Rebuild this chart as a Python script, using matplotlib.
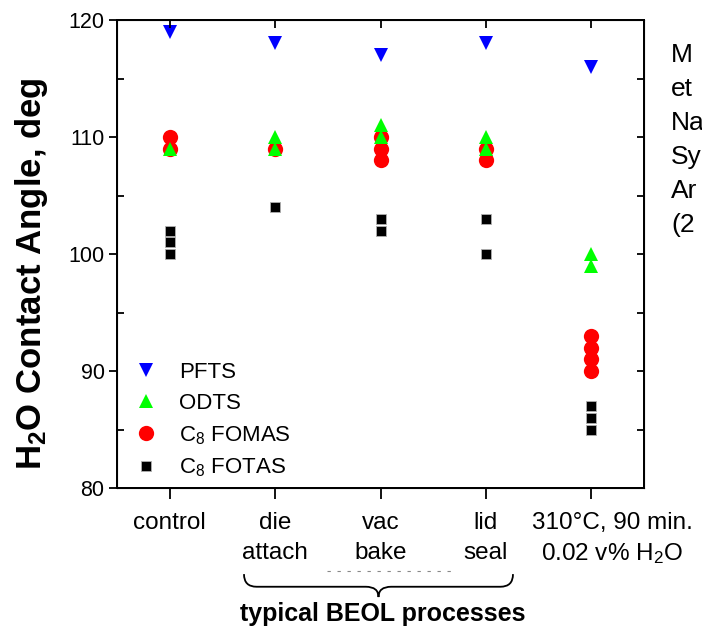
import matplotlib
matplotlib.use("Agg")
import matplotlib.pyplot as plt
import matplotlib.transforms as mtrans
from matplotlib.path import Path
from matplotlib.patches import PathPatch

plt.rcParams['font.family'] = ['Liberation Sans', 'DejaVu Sans']
plt.rcParams['mathtext.fontset'] = 'custom'
plt.rcParams['mathtext.rm'] = 'Liberation Sans'
plt.rcParams['mathtext.it'] = 'Liberation Sans'
plt.rcParams['mathtext.bf'] = 'Liberation Sans:bold'

# ---------------- data ----------------
categories = [1, 2, 3, 4, 5]
cat_line1 = ['control', 'die', 'vac', 'lid', '310°C, 90 min.']
cat_line2 = ['', 'attach', 'bake', 'seal', '0.02 v% H$_2$O']

pfts = [[119], [118], [117], [118], [116]]
odts = [[109], [110, 109], [111, 110], [110, 109], [100, 99]]
fomas = [[110, 109], [109], [110, 109, 108], [109, 108], [93, 92, 91, 90]]
fotas = [[102, 101, 100], [104], [103, 102], [103, 100], [87, 86, 85]]

series_labels = ['PFTS', 'ODTS', 'C$_8$ FOMAS', 'C$_8$ FOTAS']
yticks_major = [80, 90, 100, 110, 120]
yticks_minor = [85, 95, 105, 115]
side_note = ['M', 'et', 'Na', 'Sy', 'Ar', '(2']
group_label = 'typical BEOL processes'


def flat(vals):
    xs, ys = [], []
    for c, vs in zip(categories, vals):
        for v in vs:
            xs.append(c)
            ys.append(v)
    return xs, ys


fig = plt.figure(figsize=(7.02, 6.28), dpi=100)
ax = fig.add_axes([117 / 702, 1 - 488 / 628, (644 - 117) / 702, 468 / 628])
ax.set_xlim(0.5, 5.5)
ax.set_ylim(80, 120)

for sp in ax.spines.values():
    sp.set_linewidth(1.3)

x, y = flat(fotas)
ax.plot(x, y, 's', color='black', markersize=7.8, markeredgecolor='#b0b0b0',
        markeredgewidth=0.6, zorder=3, label=series_labels[3])
x, y = flat(fomas)
ax.plot(x, y, 'o', color='#ff0000', markersize=11, markeredgewidth=0,
        zorder=4, label=series_labels[2])
x, y = flat(odts)
ax.plot(x, y, '^', color='#00ff00', markersize=10, markeredgewidth=0,
        zorder=5, label=series_labels[1])
x, y = flat(pfts)
ax.plot(x, y, 'v', color='#0000ff', markersize=9.5, markeredgewidth=0,
        zorder=6, label=series_labels[0])

# y ticks (left): major out, minor in
ax.set_yticks(yticks_major)
ax.set_yticks(yticks_minor, minor=True)
ax.tick_params(axis='y', which='major', direction='out', length=6, width=1.3,
               labelsize=15.5, pad=3, right=False)
ax.tick_params(axis='y', which='minor', direction='in', length=5, width=1.3, right=False)

# x ticks bottom: out, labels drawn manually
ax.set_xticks(categories)
ax.set_xticklabels([])
ax.tick_params(axis='x', which='major', direction='out', length=8, width=1.3, top=False)

# right ticks: inward every 5
axr = ax.twinx()
axr.set_ylim(ax.get_ylim())
axr.set_yticks(sorted(yticks_major + yticks_minor))
axr.set_yticklabels([])
axr.tick_params(axis='y', direction='in', length=5, width=1.3)
for sp in axr.spines.values():
    sp.set_linewidth(1.3)

# top ticks: inward at categories
axt = ax.twiny()
axt.set_xlim(ax.get_xlim())
axt.set_xticks(categories)
axt.set_xticklabels([])
axt.tick_params(axis='x', direction='in', length=6, width=1.3)

# category labels
trans = mtrans.blended_transform_factory(ax.transData, ax.transAxes)
for i, c in enumerate(categories):
    off = mtrans.ScaledTranslation(0.21 if i == 4 else 0.0, 0, fig.dpi_scale_trans)
    ax.text(c, -0.075, cat_line1[i], transform=trans + off, ha='center',
            va='center', fontsize=17.5)
    if cat_line2[i]:
        ax.text(c, -0.139, cat_line2[i], transform=trans + off, ha='center',
                va='center', fontsize=17.5)

# y label
ax.set_ylabel('H$_\\mathbf{2}$O Contact Angle, deg', fontsize=25, fontweight='bold')
ax.yaxis.set_label_coords(-0.127, 0.458)

# legend
handles, labels = ax.get_legend_handles_labels()
order = [3, 2, 1, 0]
leg = ax.legend([handles[i] for i in order], [labels[i] for i in order],
                loc='lower left', bbox_to_anchor=(0.013, 0.0), frameon=False,
                fontsize=16, handletextpad=0.9, labelspacing=0.45,
                handlelength=1.2, borderaxespad=0.0)

# brace under BEOL processes
x0, x1 = 1 + (244 - 170) / 105, 1 + (512 - 170) / 105
xm = (x0 + x1) / 2
ytop, ymid, ytip = -0.184, -0.211, -0.233
dx = 0.12
verts = [(x0, ytop), (x0, ymid), (x0 + dx, ymid),
         (xm - dx, ymid), (xm, ymid), (xm, ytip),
         (xm, ymid), (xm + dx, ymid),
         (x1 - dx, ymid), (x1, ymid), (x1, ytop)]
codes = [Path.MOVETO, Path.CURVE3, Path.CURVE3,
         Path.LINETO, Path.CURVE3, Path.CURVE3,
         Path.CURVE3, Path.CURVE3,
         Path.LINETO, Path.CURVE3, Path.CURVE3]
brace = PathPatch(Path(verts, codes), transform=trans, fill=False, lw=1.3,
                  edgecolor='black', clip_on=False)
ax.add_patch(brace)
ax.text(xm + 0.04, -0.27, group_label, transform=trans, ha='center', va='center',
        fontsize=18, fontweight='bold')

# faint remnant dashes
ax.plot([1 + (327 - 170) / 105, 1 + (450 - 170) / 105], [-0.177, -0.177],
        transform=trans, color='#888888', lw=0.8, ls=(0, (3, 6)), clip_on=False)

# side note (cut off at figure edge)
for i, s in enumerate(side_note):
    fig.text(671 / 702, 1 - (62 + 34 * i) / 628, s, fontsize=19, ha='left',
             va='baseline')

fig.savefig('out.png', dpi=100)
